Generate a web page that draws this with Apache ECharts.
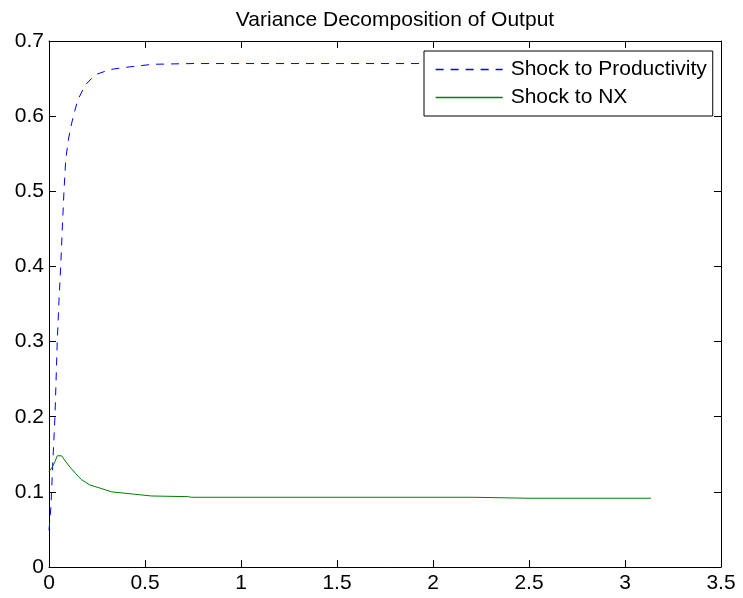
<!DOCTYPE html>
<html>
<head>
<meta charset="utf-8">
<script src="https://cdn.jsdelivr.net/npm/echarts@6/dist/echarts.min.js"></script>
<style>html,body{margin:0;padding:0;background:#fff;}#c{width:743px;height:598px;}</style>
</head>
<body>
<div id="c"></div>
<script>
const titleText = 'Variance Decomposition of Output';
const seriesNames = ['Shock to Productivity', 'Shock to NX'];
const seriesColors = ['#0000ff', '#008000'];
const xTicks = [0, 0.5, 1, 1.5, 2, 2.5, 3, 3.5];
const yTicks = [0, 0.1, 0.2, 0.3, 0.4, 0.5, 0.6, 0.7];

const prodX = [0, 0.010, 0.020, 0.031, 0.043, 0.052, 0.061, 0.070, 0.078, 0.087, 0.100, 0.113, 0.127, 0.149, 0.1875, 0.24, 0.318, 0.40, 0.54, 0.75, 1.0, 1.5, 2.0, 2.5, 3.14];
const prodY = [0.049, 0.08, 0.14, 0.20, 0.30, 0.355, 0.40, 0.455, 0.50, 0.542, 0.567, 0.585, 0.600, 0.621, 0.641, 0.655, 0.662, 0.665, 0.669, 0.670, 0.670, 0.670, 0.670, 0.670, 0.670];

const nxX = [0, 0.015, 0.031, 0.043, 0.066, 0.085, 0.109, 0.14, 0.17, 0.214, 0.266, 0.326, 0.44, 0.535, 0.726, 0.743, 1.0, 1.5, 2.0, 2.21, 2.212, 2.5, 3.0, 3.135];
const nxY = [0.127, 0.132, 0.140, 0.148, 0.148, 0.141, 0.133, 0.124, 0.116, 0.109, 0.105, 0.100, 0.097, 0.0945, 0.0936, 0.0928, 0.0928, 0.0928, 0.0928, 0.0928, 0.0915, 0.0915, 0.0915, 0.0915];

const FONT = 'Liberation Sans, Arial, Helvetica, sans-serif';
const zip = (a, b) => a.map((v, i) => [v, b[i]]);
const dash = [8, 7];

const chart = echarts.init(document.getElementById('c'), null, {renderer: 'canvas'});
const axisLine = {show: true, onZero: false, lineStyle: {color: '#000', width: 1}};
const tickIn = {show: true, inside: true, length: 7, lineStyle: {color: '#000', width: 1}};

chart.setOption({
  animation: false,
  backgroundColor: '#fff',
  title: {
    text: titleText,
    left: 390, top: 5, textAlign: 'center',
    textStyle: {fontFamily: FONT, fontSize: 21, fontWeight: 'normal', color: '#000'}
  },
  grid: {left: 49, top: 41, right: 22, bottom: 31, containLabel: false},
  legend: {
    orient: 'vertical',
    left: 424, top: 51,
    padding: [8, 6, 8, 11],
    itemGap: 7,
    itemWidth: 67,
    itemHeight: 14,
    backgroundColor: '#fff',
    borderColor: '#000',
    borderWidth: 1,
    borderRadius: 0,
    itemStyle: {opacity: 0, borderWidth: 0},
    lineStyle: {width: 1.3, color: 'inherit', type: 'inherit', opacity: 1},
    textStyle: {fontFamily: FONT, fontSize: 21, color: '#000', lineHeight: 21, padding: [0, 0, 0, 3]},
    data: seriesNames
  },
  xAxis: [
    {type: 'value', min: xTicks[0], max: xTicks[xTicks.length - 1], interval: 0.5, position: 'bottom',
     axisLine: axisLine, axisTick: tickIn, splitLine: {show: false},
     axisLabel: {fontFamily: FONT, fontSize: 21, color: '#000', margin: 6}},
    {type: 'value', min: xTicks[0], max: xTicks[xTicks.length - 1], interval: 0.5, position: 'top',
     axisLine: axisLine, axisTick: tickIn, splitLine: {show: false}, axisLabel: {show: false}}
  ],
  yAxis: [
    {type: 'value', min: yTicks[0], max: yTicks[yTicks.length - 1], interval: 0.1, position: 'left',
     axisLine: axisLine, axisTick: tickIn, splitLine: {show: false},
     axisLabel: {fontFamily: FONT, fontSize: 21, color: '#000', margin: 5}},
    {type: 'value', min: yTicks[0], max: yTicks[yTicks.length - 1], interval: 0.1, position: 'right',
     axisLine: axisLine, axisTick: tickIn, splitLine: {show: false}, axisLabel: {show: false}}
  ],
  series: [
    {name: seriesNames[0], type: 'line', data: zip(prodX, prodY), symbol: 'none', showSymbol: false, smooth: false,
     lineStyle: {color: seriesColors[0], width: 1, type: dash}, itemStyle: {color: seriesColors[0]}},
    {name: seriesNames[1], type: 'line', data: zip(nxX, nxY), symbol: 'none', showSymbol: false, smooth: false,
     lineStyle: {color: seriesColors[1], width: 1}, itemStyle: {color: seriesColors[1]}}
  ]
});
</script>
</body>
</html>
